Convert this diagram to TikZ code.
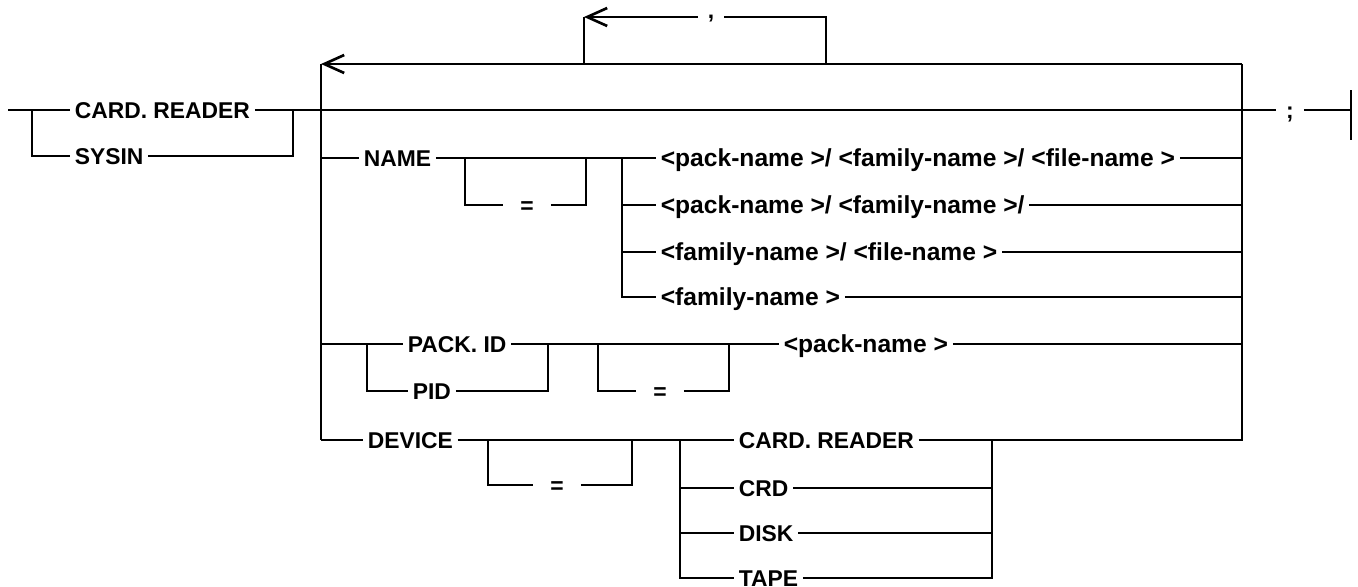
\documentclass[tikz,border=0pt]{standalone}
\usepackage{fontspec}
\setmainfont{Liberation Sans}
\usetikzlibrary{arrows.meta}
\tikzstyle{every path}=[line width=1.5pt]
\tikzstyle{word}=[inner xsep=2pt, inner ysep=0pt, anchor=west, text height=9.4pt, text depth=0pt, font=\fontsize{13}{15}\selectfont\bfseries]
\tikzstyle{var}=[word, font=\fontsize{14}{16}\selectfont\bfseries]
\tikzstyle{opt}=[word, anchor=center, inner xsep=9pt]
\tikzstyle{punct}=[word, anchor=center, inner xsep=5pt, text height=2.5pt, text depth=0.5pt]
\tikzstyle{loopback}=[-{Straight Barb[length=4mm,width=3.6mm]}]

\begin{document}
\begin{tikzpicture}[x=0.2mm, y=-0.2mm]
            \useasboundingbox (0,0) rectangle (1358,586);

            % entry
            \coordinate (in) at (8,110);
            \coordinate (alt) at (32,110);
            \coordinate (altend) at (293,110);
            \node[word] (card) at (70,110) {CARD. READER};
            \node[word] (sysin) at (70,156) {SYSIN};
            \draw (in) -- (card);
            \draw (alt) |- (sysin);
            \draw (card) -- (altend);
            \draw (sysin) -| (altend);

            % repeat frame
            \coordinate (tl) at (321,64);
            \coordinate (tr) at (1242,64);
            \coordinate (bl) at (321,440);
            \coordinate (br) at (1242,440);
            \coordinate (exit) at (1242,110);
            \draw[loopback] (tr) -- (tl);
            \draw (tl) -- (bl);
            \draw (altend) -- (exit);

            % comma loop
            \coordinate (cl) at (584,64);
            \coordinate (cr) at (826,64);
            \coordinate (clt) at (584,17);
            \coordinate (crt) at (826,17);
            \node[punct] (comma) at (711,17) {,};
            \draw (cr) -- (crt) -- (comma);
            \draw[loopback] (comma) -- (clt);
            \draw (clt) -- (cl);

            % end
            \node[punct] (semi) at (1290,110) [text height=9.4pt, text depth=0pt] {;};
            \coordinate (stop) at (1351,110);
            \coordinate (stoptop) at (1351,90);
            \coordinate (stopbot) at (1351,140);
            \draw (exit) -- (semi);
            \draw (semi) -- (stop);
            \draw (stoptop) -- (stopbot);

            % NAME
            \coordinate (nm) at (321,158);
            \coordinate (nmby) at (465,158);
            \coordinate (nmjoin) at (586,158);
            \coordinate (nmfork) at (622,158);
            \node[word] (name) at (359,158) {NAME};
            \node[opt] (nmeq) at (527,205) {=};
            \node[var] (pfn) at (656,158) {<pack-name >/ <family-name >/ <file-name >};
            \node[var] (pf) at (656,205) {<pack-name >/ <family-name >/};
            \node[var] (ff) at (656,252) {<family-name >/ <file-name >};
            \node[var] (fam) at (656,297) {<family-name >};
            \draw (nm) -- (name);
            \draw (name) -- (nmfork);
            \draw (nmby) |- (nmeq);
            \draw (nmeq) -| (nmjoin);
            \draw (nmfork) -- (pfn);
            \draw (nmfork) |- (pf);
            \draw (nmfork) |- (ff);
            \draw (nmfork) |- (fam);
            \draw (pfn) -- (pfn -| br);
            \draw (pf) -- (pf -| br);
            \draw (ff) -- (ff -| br);
            \draw (fam) -- (fam -| br);

            % PACK.ID
            \coordinate (pk) at (321,344);
            \coordinate (pkalt) at (367,344);
            \coordinate (pkend) at (548,344);
            \coordinate (pkby) at (598,344);
            \coordinate (pkjoin) at (729,344);
            \node[word] (packid) at (403,344) {PACK. ID};
            \node[word] (pid) at (408,391) {PID};
            \node[opt] (pkeq) at (660,391) {=};
            \node[var] (packname) at (779,344) {<pack-name >};
            \draw (pk) -- (packid);
            \draw (pkalt) |- (pid);
            \draw (packid) -- (pkend);
            \draw (pid) -| (pkend);
            \draw (pkend) -- (packname);
            \draw (pkby) |- (pkeq);
            \draw (pkeq) -| (pkjoin);
            \draw (packname) -- (packname -| br);

            % DEVICE
            \coordinate (dvby) at (488,440);
            \coordinate (dvjoin) at (632,440);
            \coordinate (dvfork) at (680,440);
            \coordinate (dvend) at (992,440);
            \node[word] (device) at (363,440) {DEVICE};
            \node[opt] (dveq) at (557,485) {=};
            \node[word] (dcard) at (734,440) {CARD. READER};
            \node[word] (crd) at (734,488) {CRD};
            \node[word] (disk) at (734,533) {DISK};
            \node[word] (tape) at (734,578) {TAPE};
            \draw (bl) -- (device);
            \draw (device) -- (dcard);
            \draw (dvby) |- (dveq);
            \draw (dveq) -| (dvjoin);
            \draw (dvfork) |- (crd);
            \draw (dvfork) |- (disk);
            \draw (dvfork) |- (tape);
            \draw (dcard) -- (dvend) -- (br) -- (tr);
            \draw (crd) -| (dvend);
            \draw (disk) -| (dvend);
            \draw (tape) -| (dvend);
        \end{tikzpicture}
\end{document}
